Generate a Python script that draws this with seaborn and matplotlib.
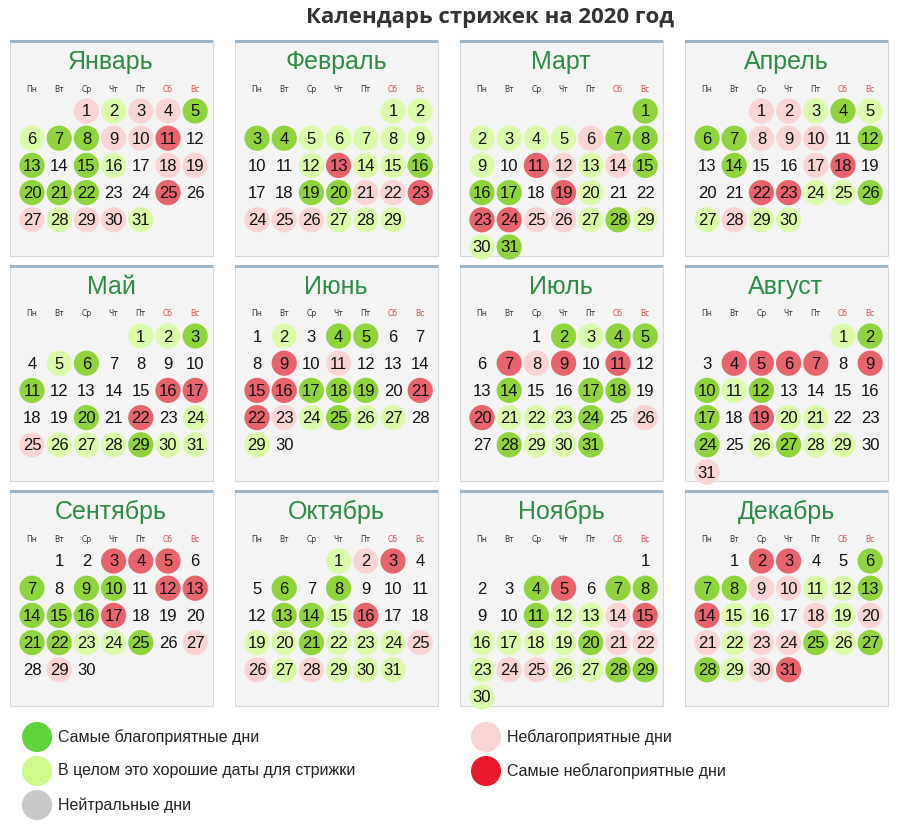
import datetime as dt

import matplotlib
matplotlib.use("Agg")
import matplotlib.pyplot as plt
from matplotlib.patches import Rectangle
import pandas as pd
import seaborn as sns

# G = самые благоприятные, g = хорошие, p = неблагоприятные, R = самые неблагоприятные, n = нейтральные
YEAR = 2020
MONTHS = ["Январь", "Февраль", "Март", "Апрель", "Май", "Июнь",
          "Июль", "Август", "Сентябрь", "Октябрь", "Ноябрь", "Декабрь"]
WEEKDAYS = ["Пн", "Вт", "Ср", "Чт", "Пт", "Сб", "Вс"]
DAY_CODES = [
    "pgppG" "gGGppRn" "GnGgnpp" "GGGnnRn" "pgppg",
    "gg" "GGggggg" "nngRggG" "nnGGppR" "pppggg",
    "G" "ggggpGG" "gnRpgpG" "GGnRgnn" "RRppgGg" "gG",
    "ppgGg" "GGpppnG" "nGnnpRn" "nnRRggG" "gpgg",
    "ggG" "ngGnnnn" "GnnnnRR" "nnGnRng" "pgggGgg",
    "ngnGGnn" "nRnpnnn" "RRGGGnR" "RpgGggn" "gn",
    "nGgGG" "nRpRnRn" "nGnnGGn" "RgggGnp" "nGggG",
    "gG" "nRRRRnR" "GgGnnnn" "GnRggnn" "GngGggn" "p",
    "nnRRRn" "GnGGnRR" "GGGRnnn" "GGggGnp" "npn",
    "gpRn" "nGnGnnn" "nGGgRnn" "ggGgggp" "pgpggg",
    "n" "nnGRnGG" "nnGggpR" "ggggGpp" "gppggGG" "g",
    "nRRnnG" "GGppggG" "Rggnpgp" "pgppGgG" "GgpR",
]
LEGEND_LABELS = {
    "G": "Самые благоприятные дни",
    "g": "В целом это хорошие даты для стрижки",
    "n": "Нейтральные дни",
    "p": "Неблагоприятные дни",
    "R": "Самые неблагоприятные дни",
}
PALETTE = {"G": "#8fd43c", "g": "#dcfbaa", "p": "#f9d4d4", "R": "#e7646c", "n": "#c8c8c8"}

rows = []
for m in range(12):
    codes = DAY_CODES[m]
    px, py = 10 + 225 * (m % 4), 40 + 225 * (m // 4)
    first = dt.date(YEAR, m + 1, 1).weekday()
    for d, c in enumerate(codes, start=1):
        cell = first + d - 1
        rows.append(dict(month=m, day=d, code=c,
                         x=px + 22 + 27.2 * (cell % 7),
                         y=py + 71 + 27.2 * (cell // 7)))
days = pd.DataFrame(rows)

fig = plt.figure(figsize=(9, 8.27), dpi=100)
ax = fig.add_axes([0, 0, 1, 1])
ax.set_xlim(0, 900)
ax.set_ylim(827, 0)
ax.axis("off")

ax.text(490, 18, "Календарь стрижек на 2020 год", ha="center", va="center",
        fontsize=16, fontweight="bold", color="#333333", family="Open Sans")

for m, name in enumerate(MONTHS):
    px, py = 10 + 225 * (m % 4), 40 + 225 * (m // 4)
    ax.add_patch(Rectangle((px, py), 203, 216, facecolor="#f4f4f5",
                           edgecolor="#d4d8dc", lw=0.8, zorder=0))
    ax.add_patch(Rectangle((px, py), 203, 3, facecolor="#9fb4c4", lw=0, zorder=1))
    ax.text(px + 101, py + 22, name, ha="center", va="center", fontsize=18,
            color="#2e8b45", family="Liberation Sans", zorder=3)
    for i, wd in enumerate(WEEKDAYS):
        ax.text(px + 22 + 27.2 * i, py + 49, wd, ha="center", va="center", fontsize=5.5,
                color="#d05050" if i >= 5 else "#333333", zorder=3)

marked = days[days["code"] != "n"]
sns.scatterplot(data=marked, x="x", y="y", hue="code", palette=PALETTE, s=330,
                edgecolor="none", legend=False, ax=ax, zorder=2)
for r in days.itertuples():
    ax.text(r.x, r.y + 1, str(r.day), ha="center", va="center", fontsize=12,
            color="#111111", family="Liberation Sans", zorder=3)

legend_pos = {"G": (37, 737), "g": (37, 771), "n": (37, 805), "p": (486, 737), "R": (486, 771)}
legend_colors = dict(PALETTE, G="#5ed33a", g="#ccfb8c", R="#e8192c")
leg = pd.DataFrame([dict(code=k, x=v[0], y=v[1]) for k, v in legend_pos.items()])
sns.scatterplot(data=leg, x="x", y="y", hue="code", palette=legend_colors, s=470,
                edgecolor="none", legend=False, ax=ax)
for k, (x, y) in legend_pos.items():
    ax.text(x + 21, y, LEGEND_LABELS[k], ha="left", va="center", fontsize=11.5,
            color="#222222", family="Liberation Sans")

fig.savefig("out.png", dpi=100, facecolor="white")
